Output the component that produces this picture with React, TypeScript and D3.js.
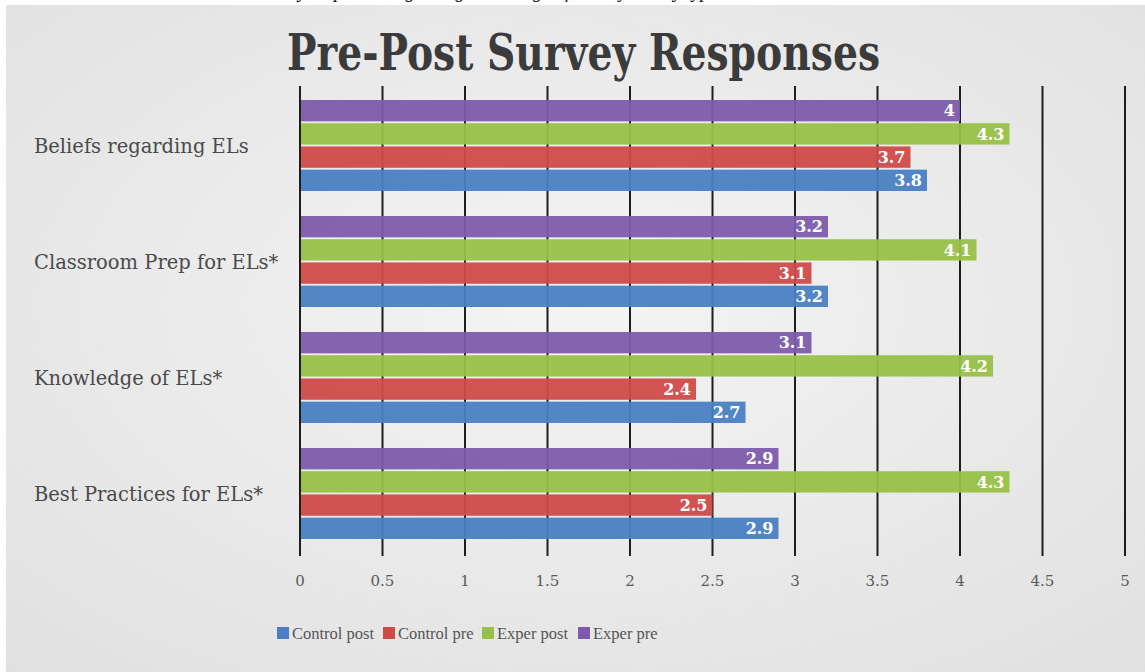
import React, { useEffect, useRef } from 'react';
import * as d3 from 'd3';

const categories = ['Beliefs regarding ELs', 'Classroom Prep for ELs*', 'Knowledge of ELs*', 'Best Practices for ELs*'];
// bar order inside each group, top to bottom
const seriesNames = ['Exper pre', 'Exper post', 'Control pre', 'Control post'];
const legendOrder = ['Control post', 'Control pre', 'Exper post', 'Exper pre'];
const controlPost = [3.8, 3.2, 2.7, 2.9];
const controlPre = [3.7, 3.1, 2.4, 2.5];
const experPost = [4.3, 4.1, 4.2, 4.3];
const experPre = [4, 3.2, 3.1, 2.9];
const xTicks = [0, 0.5, 1, 1.5, 2, 2.5, 3, 3.5, 4, 4.5, 5];

const seriesValues: Record<string, number[]> = {
  'Control post': controlPost,
  'Control pre': controlPre,
  'Exper post': experPost,
  'Exper pre': experPre,
};

const colors: Record<string, string> = {
  'Control post': '#4a7fc3',
  'Control pre': '#cf4b4a',
  'Exper post': '#98c148',
  'Exper pre': '#7d5bab',
};

const W = 1145;
const H = 672;
const serif = '"DejaVu Serif", "Liberation Serif", serif';
const narrowSerif = '"Liberation Serif", serif';

const App: React.FC = () => {
  const svgRef = useRef<SVGSVGElement>(null);

  useEffect(() => {
    if (!svgRef.current) return;
    const svg = d3.select(svgRef.current);
    svg.selectAll('*').remove();

    const defs = svg.append('defs');
    const grad = defs.append('radialGradient').attr('id', 'bg').attr('cx', '50%').attr('cy', '45%').attr('r', '75%');
    grad.append('stop').attr('offset', '0%').attr('stop-color', '#f4f4f4');
    grad.append('stop').attr('offset', '100%').attr('stop-color', '#e0e0e0');

    svg.append('rect').attr('width', W).attr('height', H).attr('fill', '#ffffff');
    // caption from the page above, only its lower edge shows
    svg.append('text')
      .attr('x', 255).attr('y', -2)
      .attr('font-family', narrowSerif)
      .attr('font-style', 'italic')
      .attr('font-size', 19)
      .attr('fill', '#111')
      .text('Survey responses regarding knowledge of ELs by survey type');
    svg.append('rect').attr('x', 6).attr('y', 5).attr('width', W - 6).attr('height', H - 5).attr('fill', 'url(#bg)');

    svg.append('text')
      .attr('x', 287).attr('y', 70)
      .attr('font-family', '"DejaVu Serif Condensed", "DejaVu Serif", serif')
      .attr('font-weight', 'bold')
      .attr('font-size', 50)
      .attr('fill', '#3b3b3b')
      .attr('textLength', 593)
      .attr('lengthAdjust', 'spacingAndGlyphs')
      .text('Pre-Post Survey Responses');

    const x = d3.scaleLinear().domain([0, 5]).range([300, 1125]);
    const y = d3.scaleBand<string>().domain(categories).range([88, 552]);
    const yInner = d3.scaleBand<string>().domain(seriesNames).range([12, y.bandwidth() - 13]).paddingInner(0.08);

    // gridlines
    svg.append('g')
      .selectAll('line')
      .data(xTicks)
      .join('line')
      .attr('x1', d => x(d)).attr('x2', d => x(d))
      .attr('y1', 86).attr('y2', 556)
      .attr('stroke', '#1e1e1e')
      .attr('stroke-width', 2);

    const groups = svg.append('g')
      .selectAll('g')
      .data(categories)
      .join('g')
      .attr('transform', c => `translate(0,${y(c)})`);

    groups.each(function (c, i) {
      const g = d3.select(this);
      seriesNames.forEach(s => {
        const v = seriesValues[s][i];
        const by = yInner(s) as number;
        g.append('rect')
          .attr('x', x(0) + 1)
          .attr('y', by)
          .attr('width', x(v) - x(0) - 1)
          .attr('height', yInner.bandwidth())
          .attr('fill', colors[s])
          .attr('opacity', 0.95);
        g.append('text')
          .attr('x', x(v) - 5)
          .attr('y', by + yInner.bandwidth() / 2)
          .attr('dy', '0.36em')
          .attr('text-anchor', 'end')
          .attr('font-family', serif)
          .attr('font-weight', 'bold')
          .attr('font-size', 16)
          .attr('fill', '#ffffff')
          .text(String(v));
      });
    });

    // category labels
    svg.append('g')
      .selectAll('text')
      .data(categories)
      .join('text')
      .attr('x', 34)
      .attr('y', c => (y(c) as number) + y.bandwidth() / 2)
      .attr('dy', '0.35em')
      .attr('font-family', serif)
      .attr('font-size', 19.5)
      .attr('fill', '#4a4a4a')
      .text(c => c);

    // tick labels
    svg.append('g')
      .selectAll('text')
      .data(xTicks)
      .join('text')
      .attr('x', d => x(d))
      .attr('y', 586)
      .attr('text-anchor', 'middle')
      .attr('font-family', serif)
      .attr('font-size', 15)
      .attr('fill', '#5a5a5a')
      .text(d => String(d));

    // legend
    const legendX = [277, 383, 482, 578];
    const legend = svg.append('g')
      .selectAll('g')
      .data(legendOrder)
      .join('g')
      .attr('transform', (_, i) => `translate(${legendX[i]},633)`);
    legend.append('rect')
      .attr('x', 0).attr('y', -6).attr('width', 12).attr('height', 12)
      .attr('fill', d => colors[d]);
    legend.append('text')
      .attr('x', 15).attr('y', 0).attr('dy', '0.35em')
      .attr('font-family', narrowSerif)
      .attr('font-size', 16.5)
      .attr('fill', '#555')
      .text(d => d);
  }, []);

  return (
    <div style={{ position: 'fixed', left: 0, top: 0 }}>
      <svg ref={svgRef} width={W} height={H} />
    </div>
  );
};

export default App;
